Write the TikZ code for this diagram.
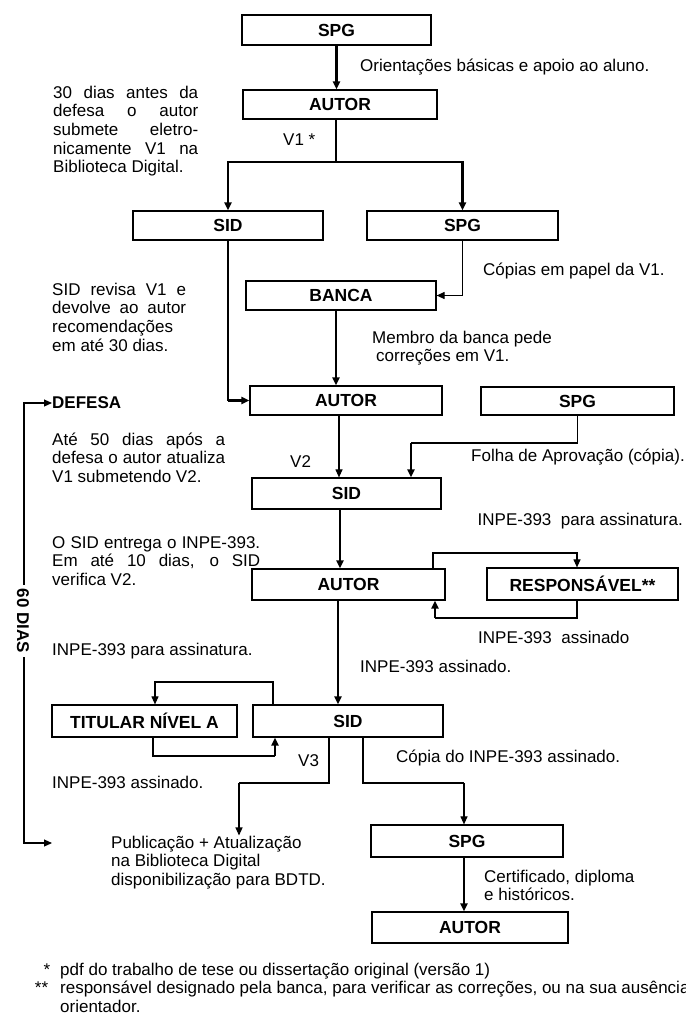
\documentclass[tikz,border=0pt]{standalone}
\usepackage{fontspec}
\setmainfont{Liberation Sans}
\usetikzlibrary{arrows.meta}
\newcommand\jline[2]{\makebox[#1][s]{#2}}
\newcommand\tblock[2]{\parbox[t]{#1}{#2}}
\begin{document}
\begin{tikzpicture}[x=1pt,y=-1pt,
  box/.style={draw, line width=1.2pt, inner sep=0pt, minimum height=30pt, font=\fontsize{17.5}{20}\selectfont\bfseries},
  txt/.style={inner sep=0pt, anchor=base west, font=\fontsize{17}{18.7}\selectfont},
  btxt/.style={inner sep=0pt, anchor=base west, font=\fontsize{17}{20}\selectfont\bfseries},
  thn/.style={line width=1.1pt},
  thk/.style={line width=2.4pt},
  tip/.style={-{Triangle[length=8pt,width=7pt]}},
]
\useasboundingbox (0,0) rectangle (686,1021);

% boxes
\node[box, minimum width=189pt, minimum height=30pt] (spg1) at (336.5,30) {SPG};
\node[box, minimum width=194pt, minimum height=29pt] (autor1) at (340,104.5) {AUTOR};
\node[box, minimum width=190pt, minimum height=29pt] (sid1) at (228,225.5) {SID};
\node[box, minimum width=191pt, minimum height=29pt] (spg2) at (462.5,225.5) {SPG};
\node[box, minimum width=190pt, minimum height=29pt] (banca) at (341,295.5) {BANCA};
\node[box, minimum width=192pt, minimum height=29pt] (autor2) at (346,400.5) {AUTOR};
\node[box, minimum width=193pt, minimum height=28pt] (spg3) at (577.5,401) {SPG};
\node[box, minimum width=189pt, minimum height=31pt] (sid2) at (346.5,493.5) {SID};
\node[box, minimum width=193pt, minimum height=31pt] (autor3) at (348.5,584.5) {AUTOR};
\node[box, minimum width=191pt, minimum height=32pt] (resp) at (582.5,584) {RESPONSÁVEL**};
\node[box, minimum width=185pt, minimum height=32pt] (titular) at (144.5,721) {TITULAR NÍVEL A};
\node[box, minimum width=190pt, minimum height=32pt] (sid3) at (348,721) {SID};
\node[box, minimum width=192pt, minimum height=32pt] (spg4) at (467,841) {SPG};
\node[box, minimum width=196pt, minimum height=31pt] (autor4) at (470,927.5) {AUTOR};

% texts
\node[txt] (t1) at (360,71) {Orientações básicas e apoio ao aluno.};
\node[txt] (t2) at (53,98) {\tblock{145pt}{\jline{145pt}{30 dias antes da}\\\jline{145pt}{defesa o autor}\\\jline{145pt}{submete eletro-}\\\jline{145pt}{nicamente V1 na}\\Biblioteca Digital.}};
\node[txt] (t3) at (283,145) {V1 *};
\node[txt] (t4) at (483,275) {Cópias em papel da V1.};
\node[txt] (t5) at (52,295) {\tblock{134pt}{\jline{134pt}{SID revisa V1 e}\\\jline{134pt}{devolve ao autor}\\recomendações\\em até 30 dias.}};
\node[txt] (t6) at (372,343) {\tblock{220pt}{Membro da banca pede\\\hspace*{4pt}correções em V1.}};
\node[btxt] (defesa) at (52,408) {DEFESA};
\node[txt] (t8) at (52,445) {\tblock{173pt}{\jline{173pt}{Até 50 dias após a}\\\jline{173pt}{defesa o autor atualiza}\\V1 submetendo V2.}};
\node[txt] (t9) at (290,467) {V2};
\node[txt, anchor=base east] (t10) at (685,461) {Folha de Aprovação (cópia).};
\node[txt] (t11) at (52,548) {\tblock{208pt}{\jline{208pt}{O SID entrega o INPE-393.}\\\jline{208pt}{Em até 10 dias, o SID}\\verifica V2.}};
\node[txt, anchor=base east] (t12) at (683,525) {INPE-393\ \ para assinatura.};
\node[txt] (t13) at (478,643) {INPE-393\ \ assinado};
\node[txt] (t14) at (52,655) {INPE-393 para assinatura.};
\node[txt] (t15) at (360,672) {INPE-393 assinado.};
\node[txt] (t16) at (298,766) {V3};
\node[txt] (t17) at (396,762) {Cópia do INPE-393 assinado.};
\node[txt] (t18) at (52,788) {INPE-393 assinado.};
\node[txt] (pub) at (111,848) {\tblock{260pt}{Publicação + Atualização\\na Biblioteca Digital\\disponibilização para BDTD.}};
\node[txt] (t20) at (484,882) {\tblock{190pt}{Certificado, diploma\\e históricos.}};
\node[txt] (t21) at (60,975) {\tblock{700pt}{\leavevmode\llap{*\hspace{10pt}}pdf do trabalho de tese ou dissertação original (versão 1)\\\leavevmode\llap{**\hspace{12pt}}responsável designado pela banca, para verificar as correções, ou na sua ausência\\orientador.}};
\node[rotate=-90, inner sep=4pt, font=\fontsize{17}{20}\selectfont\bfseries] (dias) at (23,621) {60 DIAS};

% connectors
\draw[thk,tip] (spg1.south) -- (spg1.south |- autor1.north);
\coordinate (br) at (336,162);
\draw[thn] (autor1.south -| br) -- (br);
\draw[thk,tip] (br) -| (sid1.north);
\draw[thk,tip] (br) -| (spg2.north);
\draw[thn] (sid1.south) -- (sid1.south |- autor2.west);
\draw[thk,tip] (sid1.south |- autor2.west) -- (autor2.west);
\draw[thn,tip] (spg2.south) |- (banca.east);
\draw[thk,tip] (banca.south -| br) -- (br |- autor2.north);
\coordinate (x339) at (339,0);
\draw[thn,tip] (autor2.south -| x339) -- (x339 |- sid2.north);
\coordinate (k1) at (411,443);
\draw[thn] (spg3.south) |- (k1);
\draw[thk,tip] (k1) -- (k1 |- sid2.north);
\coordinate (x340) at (340,0);
\draw[thk,tip] (sid2.south -| x340) -- (x340 |- autor3.north);
\coordinate (k2) at (577,553);
\coordinate (x433) at (433,0);
\draw[thn,tip] (autor3.north -| x433) |- (k2) -- (k2 |- resp.north);
\coordinate (k3) at (435,618);
\draw[thn] (resp.south -| k2) |- (k3);
\draw[thk,tip] (k3) -- (k3 |- autor3.south);
\coordinate (x338) at (338,0);
\draw[thk,tip] (autor3.south -| x338) -- (x338 |- sid3.north);
\coordinate (k4) at (155,682);
\coordinate (x273) at (273,0);
\draw[thn,tip] (sid3.north -| x273) |- (k4) -- (k4 |- titular.north);
\coordinate (k5) at (275,756);
\coordinate (x153) at (153,0);
\draw[thn] (titular.south -| x153) |- (k5);
\draw[thk,tip] (k5) -- (k5 |- sid3.south);
\coordinate (k6) at (239,783);
\coordinate (x329) at (329,0);
\draw[thn] (sid3.south -| x329) |- (k6);
\draw[thn,tip] (k6) -- (k6 |- pub.north);
\coordinate (k7) at (464,783);
\coordinate (x363) at (363,0);
\draw[thn] (sid3.south -| x363) |- (k7);
\draw[thn,tip] (k7) -- (k7 |- spg4.north);
\draw[thk,tip] (spg4.south -| k7) -- (k7 |- autor4.north);
% 60 dias bracket
\coordinate (L1) at (24,403);
\coordinate (L5) at (52,843);
\draw[thn,tip] (dias.west -| L1) -- (L1) -- (L1 -| defesa.west);
\draw[thn,tip] (dias.east -| L1) |- (L5);
\end{tikzpicture}
\end{document}
